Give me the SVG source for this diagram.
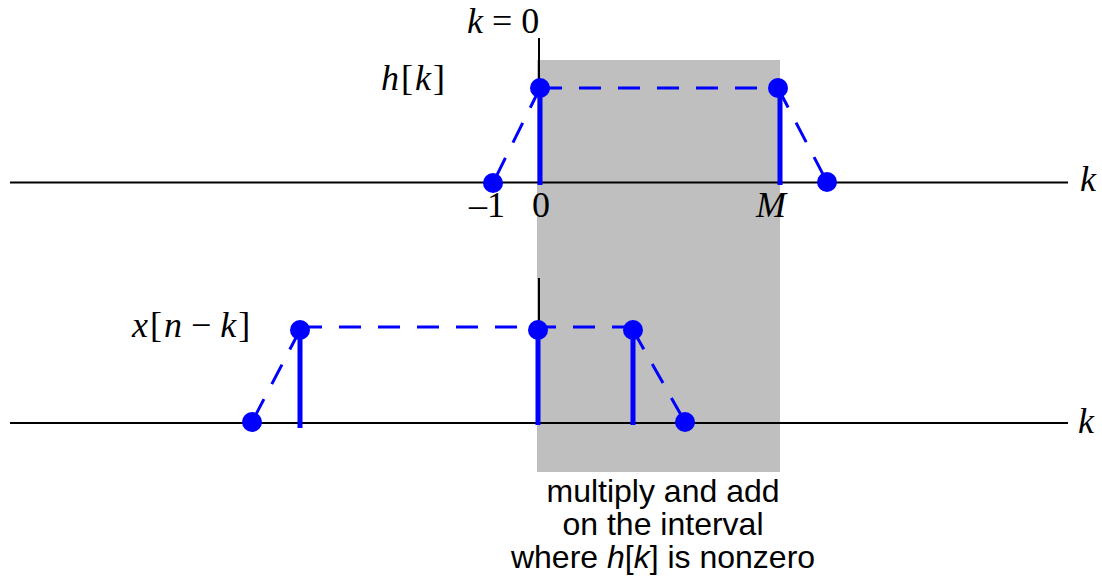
<svg xmlns="http://www.w3.org/2000/svg" width="1102" height="583" viewBox="0 0 1102 583">
<style>
.axis{stroke:#000;stroke-width:2;fill:none}
.stem{stroke:#0000ff;stroke-width:5;fill:none}
.dash{stroke:#0000ff;stroke-width:3;fill:none;stroke-dasharray:22 17}
.dot{fill:#0000ff}
.math{font-family:"Liberation Serif",serif;font-size:36px;fill:#000}
.it{font-style:italic}
.note{font-family:"Liberation Sans",Arial,sans-serif;font-size:32px;fill:#000;text-anchor:middle}
</style>
<rect id="interval" x="537" y="60" width="243" height="412" fill="#bfbfbf"/>
<g id="axes">
<line class="axis" x1="10" y1="182.5" x2="1068" y2="182.5"/>
<line class="axis" x1="539" y1="38" x2="539" y2="90"/>
<line class="axis" x1="10" y1="423" x2="1068" y2="423"/>
<line class="axis" x1="539" y1="278" x2="539" y2="330"/>
</g>
<g id="connectors">
<line class="dash" x1="540" y1="88" x2="493" y2="183"/>
<line class="dash" x1="540" y1="88" x2="778" y2="88"/>
<line class="dash" x1="778" y1="88" x2="827" y2="182"/>
<line class="dash" x1="300" y1="330" x2="252" y2="422"/>
<line class="dash" x1="300" y1="327" x2="633" y2="327"/>
<line class="dash" x1="633" y1="330" x2="685" y2="422"/>
</g>
<g id="h">
<line class="stem" x1="540" y1="88" x2="540" y2="185"/>
<line class="stem" x1="780" y1="88" x2="780" y2="185"/>
<circle class="dot" cx="540" cy="88" r="10"/>
<circle class="dot" cx="778" cy="88" r="10"/>
<circle class="dot" cx="493" cy="183" r="10"/>
<circle class="dot" cx="827" cy="182" r="10"/>
</g>
<g id="x">
<line class="stem" x1="300" y1="330" x2="300" y2="428"/>
<line class="stem" x1="538" y1="330" x2="538" y2="425"/>
<line class="stem" x1="633" y1="330" x2="633" y2="425"/>
<circle class="dot" cx="252" cy="422" r="10"/>
<circle class="dot" cx="300" cy="330" r="10"/>
<circle class="dot" cx="538" cy="330" r="10"/>
<circle class="dot" cx="633" cy="330" r="10"/>
<circle class="dot" cx="685" cy="422" r="10"/>
</g>
<g id="labels">
<text class="math" x="467" y="33" font-size="30"><tspan class="it">k</tspan> = 0</text>
<text class="math" x="381" y="90"><tspan class="it">h</tspan><tspan dx="2">[</tspan><tspan class="it" dx="2">k</tspan><tspan dx="2">]</tspan></text>
<text class="math" x="469" y="217" font-size="35">–1</text>
<text class="math" x="532" y="217" font-size="35">0</text>
<text class="math it" x="756" y="217" font-size="35">M</text>
<text class="math it" x="1080" y="191">k</text>
<text class="math it" x="1078" y="433">k</text>
<text class="math" x="132" y="337"><tspan class="it">x</tspan><tspan dx="2">[</tspan><tspan class="it" dx="2">n</tspan> − <tspan class="it">k</tspan><tspan dx="2">]</tspan></text>
</g>
<g id="note">
<text class="note" x="663" y="502">multiply and add</text>
<text class="note" x="663" y="535">on the interval</text>
<text class="note" x="663" y="568">where <tspan font-style="italic">h</tspan>[<tspan font-style="italic">k</tspan>] is nonzero</text>
</g>
</svg>
